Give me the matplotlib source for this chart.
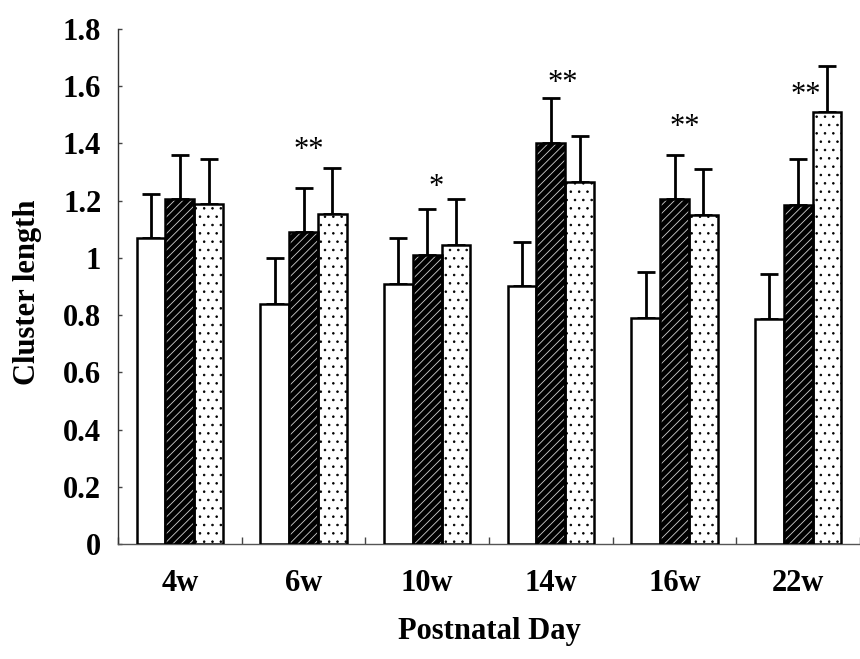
import matplotlib
matplotlib.use("Agg")
import matplotlib.pyplot as plt
import numpy as np

plt.rcParams['font.family'] = ['Liberation Serif', 'DejaVu Serif']
plt.rcParams['hatch.linewidth'] = 0.6

categories = ["4w", "6w", "10w", "14w", "16w", "22w"]
series_white = [1.07, 0.84, 0.91, 0.90, 0.79, 0.785]
err_white = [0.155, 0.16, 0.16, 0.155, 0.16, 0.16]
series_hatched = [1.205, 1.09, 1.01, 1.40, 1.205, 1.185]
err_hatched = [0.155, 0.155, 0.16, 0.16, 0.155, 0.16]
series_dotted = [1.19, 1.155, 1.045, 1.265, 1.15, 1.51]
err_dotted = [0.155, 0.16, 0.16, 0.16, 0.16, 0.16]
star_labels = ["", "**", "*", "**", "**", "**"]
star_x_offset = [0, 0.04, 0.07, 0.10, 0.08, 0.06]
star_y = [0, 1.398, 1.27, 1.635, 1.478, 1.593]
y_ticks = [0, 0.2, 0.4, 0.6, 0.8, 1, 1.2, 1.4, 1.6, 1.8]
y_ticklabels = ["0", "0.2", "0.4", "0.6", "0.8", "1", "1.2", "1.4", "1.6", "1.8"]

fig = plt.figure(figsize=(8.6, 6.59), dpi=100)
ax = fig.add_axes([118/860, 115/659, 742/860, 515/659])

x = np.arange(len(categories))
w = 0.232
ekw = dict(ecolor='black', elinewidth=2.0, capsize=6.5, capthick=2.0)

def up_err(e):
    e = np.asarray(e)
    return [np.zeros_like(e), e]

# white bars
ax.bar(x - w, series_white, w, color='white', edgecolor='black', linewidth=1.8, zorder=3)
ax.errorbar(x - w, series_white, yerr=up_err(err_white), fmt='none', zorder=2, **ekw)
# hatched bars: black face with thin light diagonal hatch
ax.bar(x, series_hatched, w, color='black', edgecolor='#cfcfcf', hatch='////', linewidth=0, zorder=3)
ax.bar(x, series_hatched, w, fill=False, edgecolor='black', linewidth=1.8, zorder=4)
ax.errorbar(x, series_hatched, yerr=up_err(err_hatched), fmt='none', zorder=2, **ekw)
# dotted bars
ax.bar(x + w, series_dotted, w, color='white', edgecolor='black', hatch='..', linewidth=1.8, zorder=3)
ax.errorbar(x + w, series_dotted, yerr=up_err(err_dotted), fmt='none', zorder=2, **ekw)

for i, s in enumerate(star_labels):
    if s:
        ax.text(x[i] + star_x_offset[i], star_y[i] - 0.05, s, ha='center', va='baseline',
                fontsize=22, color='black')

ax.set_xlim(-0.5, -0.5 + 742/125)
ax.set_ylim(0, 1.8)
ax.set_yticks(y_ticks)
ax.set_yticklabels(y_ticklabels, fontsize=22, fontweight='bold')
ax.set_xticks(x)
ax.set_xticklabels(categories, fontsize=22, fontweight='bold')
ax.set_xticks(np.arange(len(categories) + 1) - 0.5, minor=True)
ax.tick_params(axis='x', which='major', length=0, pad=18)
ax.tick_params(axis='x', which='minor', direction='in', length=5, width=1, color='#444444')
ax.tick_params(axis='y', which='major', direction='in', length=3, width=1, color='#444444', pad=12)

for sp in ['top', 'right']:
    ax.spines[sp].set_visible(False)
ax.spines['left'].set_color('#333333')
ax.spines['left'].set_linewidth(1.0)
ax.spines['bottom'].set_color('#555555')
ax.spines['bottom'].set_linewidth(1.0)

fig.text(489/860, 1 - 632/659, "Postnatal Day", ha='center', va='center', fontsize=22, fontweight='bold')
fig.text(28/860, 1 - 292/659, "Cluster length", ha='center', va='center', rotation=90,
         fontsize=22, fontweight='bold')

fig.savefig("out.png", dpi=100)
